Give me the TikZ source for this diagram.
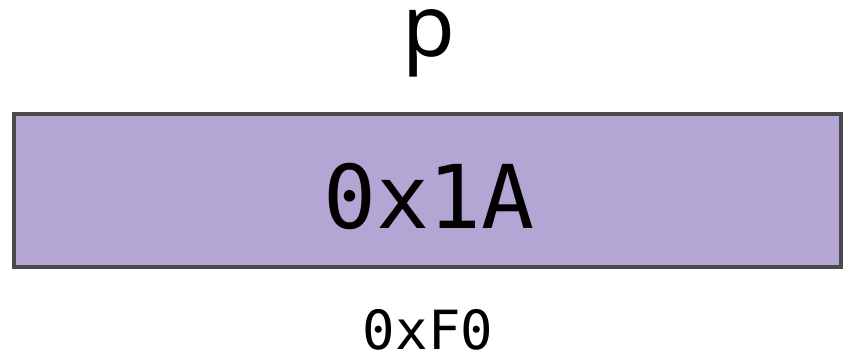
\documentclass[tikz,border=0pt]{standalone}
\usepackage{fontspec}
\setmainfont{Noto Sans}
\setmonofont{DejaVu Sans Mono}
\definecolor{boxfill}{HTML}{B3A6D4}
\definecolor{boxline}{HTML}{4A4A4A}
\begin{document}
\begin{tikzpicture}[x=1pt,y=-1pt,
  cell/.style={draw=boxline,line width=4pt,fill=boxfill,minimum width=827pt,minimum height=153pt,inner sep=0pt},
  lbl/.style={anchor=base,inner sep=0pt}]
\useasboundingbox (0,0) rectangle (850,356);
\node[cell] (box) at (427.5,190.5) {};
\node[lbl,font=\fontsize{88}{88}\selectfont\ttfamily] (val) at (429,228) {0x1A};
\node[lbl,font=\fontsize{86}{86}\selectfont,text height=0.56em,text depth=0.24em] (name) at (429,56) {p};
\node[lbl,font=\fontsize{54}{54}\selectfont\ttfamily,text height=0.74em,text depth=0pt] (addr) at (428,349) {0xF0};
\end{tikzpicture}
\end{document}
